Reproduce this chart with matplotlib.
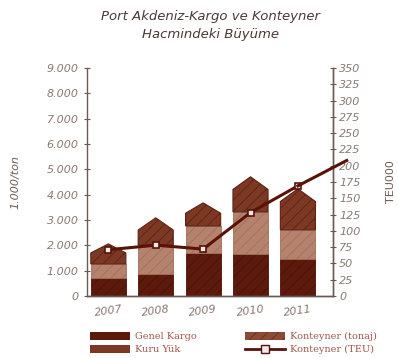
import matplotlib.pyplot as plt
from matplotlib.patches import Polygon, Patch
from matplotlib.lines import Line2D

plt.rcParams['hatch.linewidth'] = 0.6

# datos (1.000 ton y TEU000)
years = ['2007', '2008', '2009', '2010', '2011']
genel_kargo = [710, 870, 1700, 1660, 1460]
konteyner_ton = [555, 1145, 1065, 1660, 1150]
kuru_yuk = [790, 1070, 910, 1385, 1620]
teu = [71, 78, 72, 128, 169]
teu_end = 208  # la linea sigue despues de 2011

c_gk = '#5c1a0c'
c_kt = '#b5836d'
c_ky = '#7d3823'
c_line = '#5a1208'
c_txt = '#8a7a72'
c_leg = '#a0574d'

fig = plt.figure(figsize=(3.98, 3.58), dpi=100)
ax = fig.add_axes([0.2186, 0.1732, 0.618, 0.637])
ax2 = ax.twinx()

w = 0.74
x = list(range(len(years)))
ax.bar(x, genel_kargo, w, color=c_gk, edgecolor='#4a1207', linewidth=0.6,
       hatch='///', zorder=2)
ax.bar(x, konteyner_ton, w, bottom=genel_kargo, color=c_kt, edgecolor='#a26f5a',
       linewidth=0.6, hatch='///', zorder=2)

# parte de arriba con techo (forma de casa)
for i in x:
    base = genel_kargo[i] + konteyner_ton[i]
    peak = base + kuru_yuk[i]
    roof = min(500, 0.45 * kuru_yuk[i])
    eave = peak - roof
    pts = [(i - w / 2, base), (i - w / 2, eave), (i, peak),
           (i + w / 2, eave), (i + w / 2, base)]
    ax.add_patch(Polygon(pts, closed=True, facecolor=c_ky, edgecolor='#5a2313',
                         linewidth=0.8, hatch='///', zorder=2))

ax.set_xlim(-0.45, 4.74)
ax.set_ylim(0, 9000)
ax.set_yticks(range(0, 9001, 1000))
ax.set_yticklabels(['0'] + ['%d.000' % k for k in range(1, 10)])
ax.set_xticks(x)
ax.set_xticklabels(years, rotation=8)
ax.tick_params(axis='y', direction='inout', length=5, width=0.8, colors='#6a5a52',
               labelcolor=c_txt, labelsize=8)
ax.tick_params(axis='x', length=0, labelcolor=c_txt, labelsize=8, pad=6)
for lab in ax.get_yticklabels() + ax.get_xticklabels():
    lab.set_fontstyle('italic')

ax2.plot(x, teu, color=c_line, linewidth=2.2, marker='s', markersize=5,
         markerfacecolor='#f0ebe8', markeredgecolor=c_line, markeredgewidth=1.2,
         zorder=4)
ax2.plot([x[-1], 5.03], [teu[-1], teu_end], color=c_line, linewidth=2.2,
         clip_on=False, zorder=4)
ax2.set_ylim(0, 350)
ax2.set_yticks(range(0, 351, 25))
ax2.tick_params(axis='y', direction='inout', length=5, width=0.8, colors='#6a5a52',
                labelcolor=c_txt, labelsize=8, pad=2)
for lab in ax2.get_yticklabels():
    lab.set_fontstyle('italic')

for a in (ax, ax2):
    a.spines['top'].set_visible(False)
    for s in ('left', 'right', 'bottom'):
        a.spines[s].set_color('#6a5a52')
        a.spines[s].set_linewidth(1.0)
ax2.spines['left'].set_visible(False)

ax.set_ylabel('1.000/ton', color='#6a5a52', fontsize=8, fontstyle='italic', labelpad=19)
ax2.set_ylabel('TEU000', color='#6a5a52', fontsize=8, rotation=90, labelpad=18)

fig.text(0.53, 0.955, 'Port Akdeniz-Kargo ve Konteyner', ha='center', va='center',
         fontsize=9.5, fontstyle='italic', color='#4a3a36')
fig.text(0.53, 0.905, 'Hacmindeki Büyüme', ha='center', va='center',
         fontsize=9.5, fontstyle='italic', color='#4a3a36')

handles = [Patch(facecolor=c_gk, edgecolor='none'),
           Patch(facecolor=c_ky, edgecolor='none'),
           Patch(facecolor='#8a4a36', edgecolor='#6a3020', hatch='///', linewidth=0),
           Line2D([], [], color=c_line, linewidth=2, marker='s', markersize=6,
                  markerfacecolor='#f0ebe8', markeredgecolor=c_line)]
labels = ['Genel Kargo', 'Kuru Yük', 'Konteyner (tonaj)', 'Konteyner (TEU)']
leg = fig.legend(handles, labels, ncol=2, loc='center', bbox_to_anchor=(0.587, 0.042),
                 frameon=False, handlelength=4.1, handleheight=0.9,
                 columnspacing=5.0, labelspacing=0.4, handletextpad=0.5,
                 prop={'family': 'DejaVu Serif', 'size': 7})
for t in leg.get_texts():
    t.set_color(c_leg)

fig.savefig('out.png', dpi=100)
